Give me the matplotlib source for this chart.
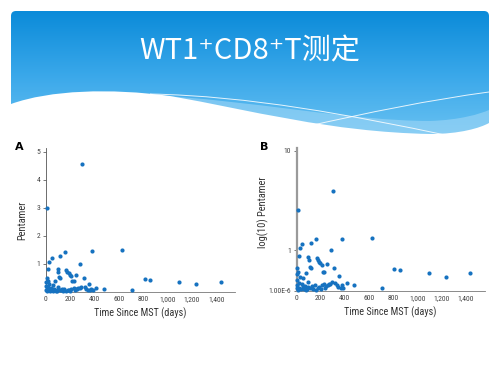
import numpy as np
import matplotlib
matplotlib.use("Agg")
import matplotlib.pyplot as plt
from matplotlib.path import Path
from matplotlib.patches import PathPatch, FancyBboxPatch
from matplotlib.colors import LinearSegmentedColormap

# pentamer values (days since MST, pentamer)
days = [10, 300, 26, 49, 117, 160, 283, 380, 623, 812, 855, 1095, 1237, 1440,
        708, 476, 416,
        18, 97, 100, 110, 75, 170, 178, 188, 198, 210, 218, 232, 250, 312, 352,
        7, 15, 5, 29, 5, 57, 43, 70, 98, 117, 94, 113, 130, 189, 210, 229, 257,
        237, 279, 292, 333, 347, 375, 389, 3, 12, 20, 35, 60, 82, 140, 150, 165,
        200, 268, 320, 365, 8, 22, 50, 88, 125, 180, 245]
pentamer = [3.00, 4.56, 1.07, 1.22, 1.27, 1.42, 1.00, 1.45, 1.48, 0.46, 0.42, 0.36, 0.27, 0.36,
            0.06, 0.10, 0.14,
            0.81, 0.80, 0.71, 0.52, 0.37, 0.76, 0.70, 0.65, 0.61, 0.57, 0.38, 0.38, 0.58, 0.49, 0.29,
            0.48, 0.39, 0.33, 0.28, 0.21, 0.24, 0.12, 0.095, 0.17, 0.48, 0.077, 0.047, 0.08, 0.077, 0.11, 0.12, 0.11,
            0.047, 0.12, 0.17, 0.11, 0.077, 0.11, 0.047, 0.05, 0.02, 0.15, 0.03, 0.04, 0.02, 0.03, 0.10, 0.02,
            0.04, 0.13, 0.15, 0.06, 0.10, 0.06, 0.09, 0.03, 0.05, 0.06, 0.09]
xticks = [0, 200, 400, 600, 800, 1000, 1200, 1400]
xticklabels = ["0", "200", "400", "600", "800", "1,000", "1,200", "1,400"]
title = "WT1\u207aCD8\u207aT测定"

W, H = 500, 376
fig = plt.figure(figsize=(5, 3.76), dpi=100)
fig.patch.set_facecolor("white")

# slide header in pixel coords
bg = fig.add_axes([0, 0, 1, 1])
bg.set_xlim(0, W)
bg.set_ylim(H, 0)
bg.axis("off")

cmap = LinearSegmentedColormap.from_list("hdr", ["#0b8bd9", "#3aa8ea", "#6cc3f2"])
grad = np.linspace(0, 1, 200).reshape(-1, 1)
im = bg.imshow(grad, cmap=cmap, extent=(11, 489, 140, 11), aspect="auto", zorder=1)
clip = FancyBboxPatch((11, 11), 478, 129, boxstyle="round,pad=0,rounding_size=5",
                      transform=bg.transData, facecolor="none", edgecolor="none")
bg.add_patch(clip)
im.set_clip_path(clip)

band = Path([(150, 95), (250, 100), (350, 121), (430, 121),
             (460, 120), (480, 114), (489, 110), (489, 200), (150, 200), (150, 95)],
            [Path.MOVETO, Path.CURVE4, Path.CURVE4, Path.CURVE4,
             Path.CURVE4, Path.CURVE4, Path.CURVE4, Path.LINETO, Path.LINETO, Path.CLOSEPOLY])
bg.add_patch(PathPatch(band, facecolor="#a5d9f7", edgecolor="none", alpha=0.55, zorder=2))

wave = Path([(0, 106), (11, 104), (50, 90), (110, 88), (170, 96),
             (250, 110), (330, 132), (430, 134),
             (460, 134), (480, 128), (489, 123), (500, 123), (500, 200), (0, 200), (0, 106)],
            [Path.MOVETO, Path.LINETO, Path.CURVE4, Path.CURVE4, Path.CURVE4,
             Path.CURVE4, Path.CURVE4, Path.CURVE4,
             Path.CURVE4, Path.CURVE4, Path.CURVE4, Path.LINETO, Path.LINETO, Path.LINETO, Path.CLOSEPOLY])
bg.add_patch(PathPatch(wave, facecolor="white", edgecolor="none", zorder=3))

l1 = Path([(150, 94), (250, 96), (350, 115), (450, 136)],
          [Path.MOVETO, Path.CURVE4, Path.CURVE4, Path.CURVE4])
l2 = Path([(300, 128), (370, 112), (430, 100), (489, 92)],
          [Path.MOVETO, Path.CURVE4, Path.CURVE4, Path.CURVE4])
for p in (l1, l2):
    bg.add_patch(PathPatch(p, facecolor="none", edgecolor="white", lw=0.7, alpha=0.85, zorder=4))

bg.text(250, 51, title, color="white", fontsize=21, ha="center", va="center",
        family=["Noto Sans CJK SC", "DejaVu Sans"], zorder=5)

dot = "#1672c0"
tfont = ["Roboto Condensed", "DejaVu Sans"]

def frac(left, top, right, bottom):
    return [left / W, (H - bottom) / H, (right - left) / W, (bottom - top) / H]

# panel A
axA = fig.add_axes(frac(45.8, 148, 235, 291.7))
axA.scatter(days, pentamer, s=9, color=dot, linewidths=0, zorder=3, clip_on=False)
axA.set_xlim(0, 1555)
axA.set_ylim(0, 5.13)
axA.set_yticks([1, 2, 3, 4, 5])
axA.set_xticks(xticks)
axA.set_xticklabels(xticklabels)
axA.set_ylabel("Pentamer", fontsize=7.5, family=tfont, color="#333333")
axA.yaxis.set_label_coords(-0.099, 0.5)

# panel B, y axis is log10(1 + value)
fwd = lambda y: np.log10(1 + np.clip(y, -0.999, None))
inv = lambda y: 10 ** y - 1
axB = fig.add_axes(frac(296.5, 148, 485, 291))
axB.scatter(days, pentamer, s=9, color=dot, linewidths=0, zorder=3, clip_on=False)
axB.set_yscale("function", functions=(fwd, inv))
axB.set_xlim(0, 1562)
axB.set_ylim(0, 10.52)
axB.set_yticks([1e-6, 1, 10])
axB.set_yticklabels(["1.00E-6", "1", "10"])
axB.minorticks_off()
axB.set_xticks(xticks)
axB.set_xticklabels(xticklabels)
axB.set_ylabel("log(10) Pentamer", fontsize=7.5, family=tfont, color="#333333")
axB.yaxis.set_label_coords(-0.146, 0.55)

for ax in (axA, axB):
    for s in ("top", "right"):
        ax.spines[s].set_visible(False)
    ax.spines["bottom"].set_color("#777777")
    ax.spines["bottom"].set_linewidth(0.6)
    ax.spines["left"].set_color("#555555")
    ax.spines["left"].set_linewidth(0.6)
    ax.tick_params(axis="both", labelsize=5.5, colors="#444444", length=2, width=0.5, pad=2)
    ax.tick_params(axis="x", length=0, pad=3)
    for lab in ax.get_xticklabels() + ax.get_yticklabels():
        lab.set_family(tfont)
    ax.set_xlabel("Time Since MST (days)", fontsize=7.3, family=tfont, color="#333333", labelpad=4)
    ax.set_facecolor("none")
axB.spines["left"].set_color("#9a9a9a")
axB.spines["left"].set_linewidth(1.6)

fig.text(15 / W, 1 - 147 / H, "A", fontsize=8, fontweight="bold", ha="left", va="center")
fig.text(260 / W, 1 - 147 / H, "B", fontsize=8, fontweight="bold", ha="left", va="center")

fig.savefig("out.png", dpi=100)
